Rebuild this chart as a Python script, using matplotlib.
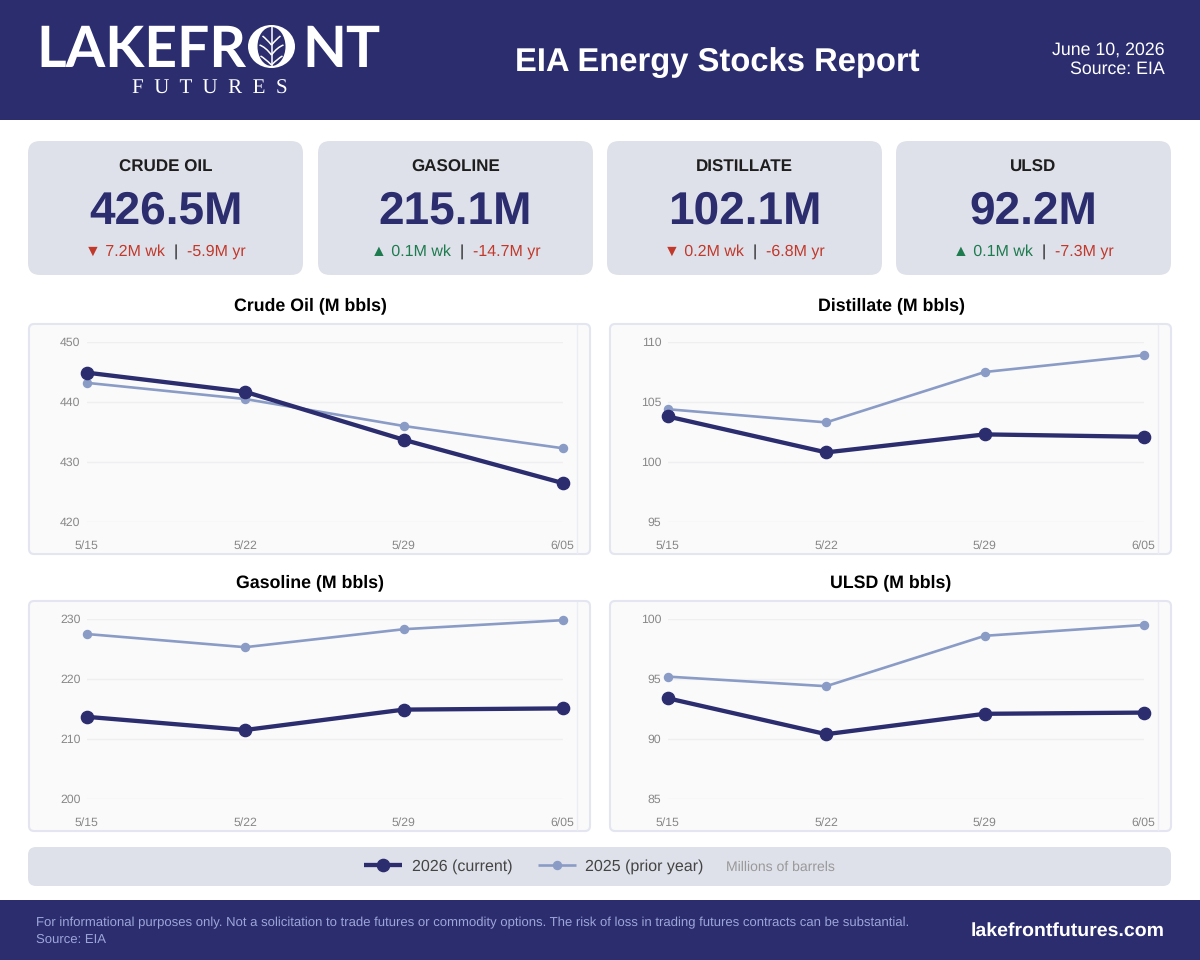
import matplotlib
matplotlib.use('Agg')
import matplotlib.pyplot as plt
from matplotlib.patches import FancyBboxPatch, Ellipse, Rectangle, PathPatch
from matplotlib.path import Path

plt.rcParams['font.family'] = ['Liberation Sans', 'DejaVu Sans']
plt.rcParams['text.hinting'] = 'no_hinting'

NAVY = '#2B2D6F'
LIGHT = '#8A9CC5'
CARD = '#DFE1EA'
RED = '#C0392B'
GREEN = '#1E7B4F'

# data
dates = ['5/15', '5/22', '5/29', '6/05']

crude_2026 = [444.9, 441.7, 433.7, 426.5]
crude_2025 = [443.2, 440.5, 436.0, 432.3]
dist_2026 = [103.8, 100.8, 102.3, 102.1]
dist_2025 = [104.4, 103.3, 107.5, 108.9]
gas_2026 = [213.7, 211.5, 214.9, 215.1]
gas_2025 = [227.5, 225.3, 228.3, 229.8]
ulsd_2026 = [93.4, 90.4, 92.1, 92.2]
ulsd_2025 = [95.2, 94.4, 98.6, 99.5]

kpi_names = ['CRUDE OIL', 'GASOLINE', 'DISTILLATE', 'ULSD']
kpi_values = ['426.5M', '215.1M', '102.1M', '92.2M']
kpi_week = ['▼ 7.2M wk', '▲ 0.1M wk', '▼ 0.2M wk', '▲ 0.1M wk']
kpi_year = ['-5.9M yr', '-14.7M yr', '-6.8M yr', '-7.3M yr']

W, H = 1200, 960
fig = plt.figure(figsize=(12, 9.6), dpi=100, facecolor='white')

# whole figure in pixels, y going down, for the page furniture
page = fig.add_axes([0, 0, 1, 1], zorder=0)
page.set_xlim(0, W)
page.set_ylim(H, 0)
page.axis('off')


def px(size):
    return size * 72 / 100


def box(x0, y0, x1, y1, color, edge='none', lw=0, rad=10):
    page.add_patch(FancyBboxPatch((x0, y0), x1 - x0, y1 - y0,
                                  boxstyle='round,pad=0,rounding_size=%d' % rad,
                                  fc=color, ec=edge, lw=lw))


def vein(p0, p1, p2):
    page.add_patch(PathPatch(Path([p0, p1, p2], [Path.MOVETO, Path.CURVE3, Path.CURVE3]),
                             fc='none', ec='white', lw=1.1))


# header
page.add_patch(Rectangle((0, 0), W, 120, fc=NAVY, ec='none'))
logo = dict(family='Lato', fontweight='bold', color='white', va='baseline', fontsize=px(57))
page.text(36, 67, 'LAKEFR', ha='left', **logo)
page.text(381, 67, 'NT', ha='right', **logo)
page.add_patch(Ellipse((271.5, 46.5), 47, 43, fc='white', ec='none'))
page.add_patch(Ellipse((271.5, 46.5), 28, 39, fc=NAVY, ec='none'))
page.plot([271.5, 271.5], [27, 66], color='white', lw=1.1)
for side in (-1, 1):
    vein((271.5, 45), (271.5 + side * 5, 39), (271.5 + side * 9, 36))
    vein((271.5, 55), (271.5 + side * 6, 47), (271.5 + side * 12, 45))
    vein((271.5, 65), (271.5 + side * 7, 58), (271.5 + side * 11, 56))
page.text(210, 94, 'F  U  T  U  R  E  S', family='Liberation Serif', color='white',
          ha='center', va='baseline', fontsize=px(21))

page.text(717, 71, 'EIA Energy Stocks Report', color='white', fontweight='bold',
          ha='center', va='baseline', fontsize=px(32.8))
page.text(1165, 55, 'June 10, 2026', color='white', ha='right', va='baseline', fontsize=px(17.7))
page.text(1165, 74, 'Source: EIA', color='white', ha='right', va='baseline', fontsize=px(17.7))

# kpi cards
renderer = fig.canvas.get_renderer()
card_left = [28, 318, 607, 896]
for i in range(4):
    x0 = card_left[i]
    box(x0, 141, x0 + 275, 275, CARD, rad=12)
    cx = x0 + 137.5
    page.text(cx, 172, kpi_names[i], color='#1E1E1E', fontweight='bold', ha='center',
              va='baseline', fontsize=px(17))
    page.text(cx, 224, kpi_values[i], color=NAVY, fontweight='bold', ha='center',
              va='baseline', fontsize=px(46))
    week_col = GREEN if kpi_week[i].startswith('▲') else RED
    parts = [(kpi_week[i], week_col), ('|', '#222222'), (kpi_year[i], RED)]
    items = [page.text(0, 256, s, color=c, ha='left', va='baseline', fontsize=px(16))
             for s, c in parts]
    widths = [t.get_window_extent(renderer).width for t in items]
    gap = 9
    x = cx - (sum(widths) + gap * 2) / 2
    for t, w in zip(items, widths):
        t.set_x(x)
        x += w + gap


def chart(x0, y0, title, now, prior, ylim, ticks):
    # card is x0..x0+561, y0..y0+230 and the plot sits inside it
    box(x0, y0, x0 + 561, y0 + 230, '#FAFAFA', edge='#E3E5F1', lw=1.5, rad=5)
    page.plot([x0 + 548, x0 + 548], [y0 + 1, y0 + 229], color='#EBECF4', lw=1)
    page.text(x0 + 281, y0 - 13.5, title, color='black', fontweight='bold', ha='center',
              va='baseline', fontsize=px(17.8))
    ax = fig.add_axes([(x0 + 57.5) / W, 1 - (y0 + 198) / H, 476 / W, 180 / H], zorder=2)
    ax.patch.set_alpha(0)
    ax.plot(dates, prior, color=LIGHT, lw=1.9, marker='o', ms=5.8, clip_on=False,
            solid_capstyle='butt', label='2025 (prior year)')
    ax.plot(dates, now, color=NAVY, lw=3.1, marker='o', ms=8.8, clip_on=False,
            solid_capstyle='butt', label='2026 (current)')
    ax.set_xlim(0, 3)
    ax.set_ylim(*ylim)
    ax.set_yticks(ticks)
    ax.grid(axis='y', color='#EFEFF2', lw=1)
    ax.set_axisbelow(True)
    for s in ax.spines.values():
        s.set_visible(False)
    ax.tick_params(axis='both', length=0, labelsize=px(12.3), labelcolor='#888888')
    ax.tick_params(axis='y', pad=px(6))
    ax.tick_params(axis='x', pad=px(18.5))
    return ax


ax1 = chart(29, 324, 'Crude Oil (M bbls)', crude_2026, crude_2025, (420, 450), [420, 430, 440, 450])
chart(610, 324, 'Distillate (M bbls)', dist_2026, dist_2025, (95, 110), [95, 100, 105, 110])
chart(29, 601, 'Gasoline (M bbls)', gas_2026, gas_2025, (200, 230), [200, 210, 220, 230])
chart(610, 601, 'ULSD (M bbls)', ulsd_2026, ulsd_2025, (85, 100), [85, 90, 95, 100])

# legend strip
box(28, 847, 1171, 886, CARD, rad=8)
handles, labels = ax1.get_legend_handles_labels()
page.legend(handles[::-1], labels[::-1], ncol=2, frameon=False, loc='center left',
            bbox_to_anchor=(364 / W, 1 - 866.5 / H), bbox_transform=fig.transFigure,
            borderpad=0, borderaxespad=0, handlelength=2.375,
            handletextpad=0.6, columnspacing=1.6, prop={'size': px(16)}, labelcolor='#444444')
page.text(726, 871, 'Millions of barrels', color='#999999', ha='left', va='baseline', fontsize=px(14))

# footer
page.add_patch(Rectangle((0, 900), W, 60, fc=NAVY, ec='none'))
note = dict(color='#9EA6D8', ha='left', va='baseline', fontsize=px(13.17))
page.text(36, 926.5, 'For informational purposes only. Not a solicitation to trade futures or commodity options. '
          'The risk of loss in trading futures contracts can be substantial.', **note)
page.text(36, 942.5, 'Source: EIA', **note)
page.text(1165, 936, 'lakefrontfutures.com', color='white', fontweight='bold', ha='right',
          va='baseline', fontsize=px(19.5))

fig.savefig('out.png', dpi=100)
